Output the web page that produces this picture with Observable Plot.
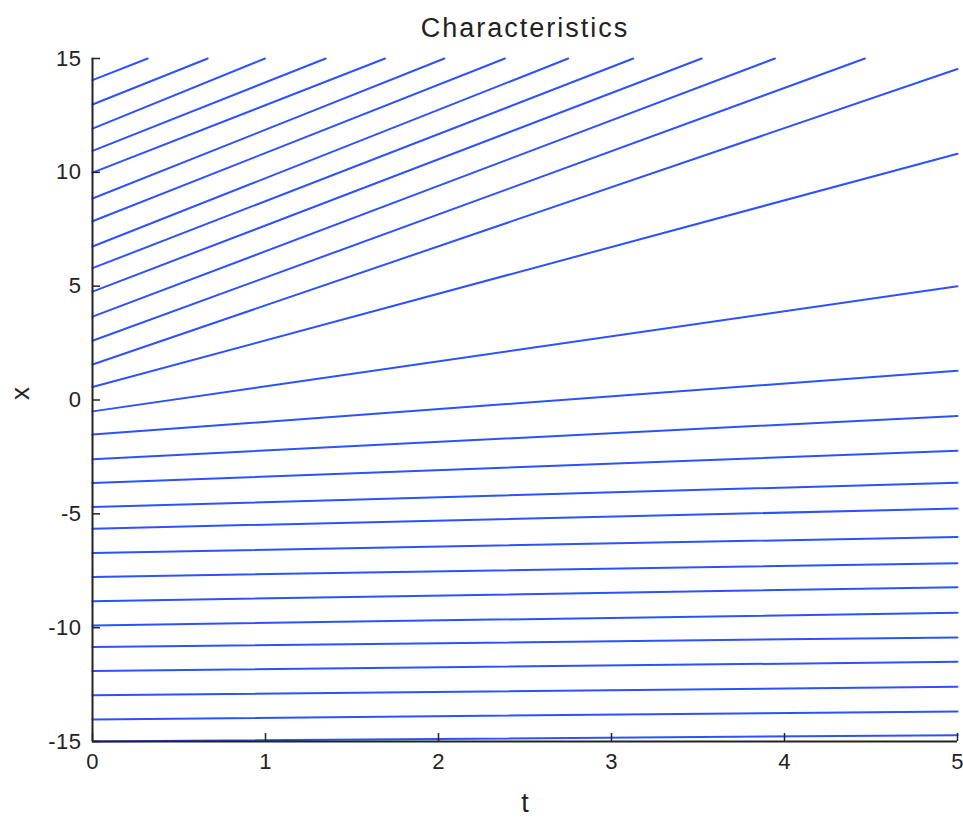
<!DOCTYPE html>
<html>
<head>
<meta charset="utf-8">
<script src="https://cdn.jsdelivr.net/npm/d3@7"></script>
<script src="https://cdn.jsdelivr.net/npm/@observablehq/plot@0.6"></script>
<style>
  html, body { margin: 0; padding: 0; background: #fff; }
  #chart svg { display: block; }
  .ttl text { letter-spacing: 2px; }
  .tk text { letter-spacing: 0.5px; }
</style>
</head>
<body>
<div id="chart"></div>
<script>
// Characteristic lines: start value at t = 0, end time, end value
const x0 = [-15, -14.03, -12.97, -11.9, -10.85, -9.9, -8.84, -7.77, -6.72, -5.65,
            -4.7, -3.65, -2.6, -1.52, -0.5, 0.57, 1.56, 2.6, 3.66, 4.76,
            5.79, 6.74, 7.85, 8.85, 9.99, 10.94, 11.92, 12.98, 14.05, 15];
const tEnd = [5, 5, 5, 5, 5, 5, 5, 5, 5, 5,
              5, 5, 5, 5, 5, 5, 5, 4.465, 3.945, 3.521,
              3.126, 2.75, 2.384, 2.034, 1.691, 1.348, 0.997, 0.666, 0.319, 0];
const xEnd = [-14.72, -13.68, -12.6, -11.5, -10.43, -9.35, -8.22, -7.17, -6.02, -4.77,
              -3.63, -2.23, -0.7, 1.28, 5.0, 10.82, 14.54, 15, 15, 15,
              15, 15, 15, 15, 15, 15, 15, 15, 15, 15];
const tTicks = [0, 1, 2, 3, 4, 5];
const xTicks = [-15, -10, -5, 0, 5, 10, 15];
const title = "Characteristics";
const tLabel = "t";
const xLabel = "x";

const rows = [];
x0.forEach((v, i) => {
  rows.push({id: i, t: 0, x: v});
  rows.push({id: i, t: tEnd[i], x: xEnd[i]});
});

const W = 963, H = 821;
const mL = 92, mR = 6, mT = 58, mB = 80;
const innerW = W - mL - mR, innerH = H - mT - mB;
const ink = "#222";
const font = "'Liberation Sans', Arial, Helvetica, sans-serif";
const fmt = d => String(d);

const chart = Plot.plot({
  width: W,
  height: H,
  marginLeft: mL,
  marginRight: mR,
  marginTop: mT,
  marginBottom: mB,
  style: {fontFamily: font, color: ink, background: "#fff", overflow: "visible"},
  x: {domain: [0, 5]},
  y: {domain: [-15, 15]},
  marks: [
    Plot.line(rows, {x: "t", y: "x", z: "id", stroke: "#2c52ff", strokeWidth: 2}),
    Plot.ruleX([0], {stroke: ink, strokeWidth: 2}),
    Plot.ruleY([-15], {stroke: ink, strokeWidth: 2}),
    Plot.tickX(tTicks, {x: d => d, stroke: ink, strokeWidth: 1.5, insetTop: innerH - 8}),
    Plot.tickY(xTicks, {y: d => d, stroke: ink, strokeWidth: 1.5, insetRight: innerW - 8}),
    Plot.axisX(tTicks, {tickSize: 0, tickPadding: 12, fontSize: 22, label: null, tickFormat: fmt, className: "tk", fill: ink}),
    Plot.axisY(xTicks, {tickSize: 0, tickPadding: 11, fontSize: 22, label: null, tickFormat: fmt, className: "tk", fill: ink}),
    Plot.text([title], {text: d => d, frameAnchor: "top", dy: -41, fontSize: 27, fill: ink, className: "ttl"}),
    Plot.text([tLabel], {text: d => d, frameAnchor: "bottom", dy: 70, fontSize: 27, fill: ink}),
    Plot.text([xLabel], {text: d => d, frameAnchor: "left", dx: -72, rotate: -90, fontSize: 26, fill: ink})
  ]
});
document.getElementById("chart").appendChild(chart);
</script>
</body>
</html>
